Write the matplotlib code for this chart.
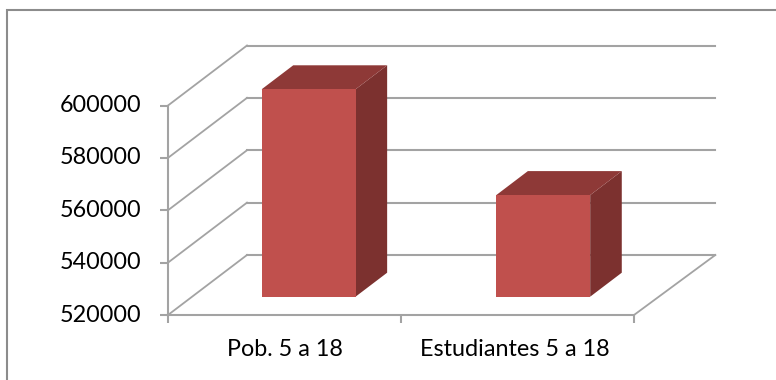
import matplotlib
matplotlib.use("Agg")
import matplotlib.pyplot as plt
from matplotlib.patches import Polygon, Rectangle
from matplotlib.transforms import Affine2D, IdentityTransform

categories = ["Pob. 5 a 18", "Estudiantes 5 a 18"]
values = [599200, 558800]
y_ticks = [520000, 540000, 560000, 580000, 600000]
bar_x = [0.5, 1.507]
label_x = [0.5, 1.49]

W, H = 776, 380
GRID = "#a3a3a3"
FRONT = "#c0504d"
TOP = "#8e3937"
SIDE = "#7c312f"

# oblique offset of the back wall, in pixels
DX, DY = 79, 60
BACK_RIGHT = 2.01
BAR_W = 0.403
DEPTH_0, DEPTH_1 = 0.305, 0.705
FONT_SIZE = 16.8

plt.rcParams["font.family"] = ["Lato", "DejaVu Sans"]

fig = plt.figure(figsize=(W / 100, H / 100), dpi=100)
# outer frame runs off the right and bottom of the figure
fig.patches.append(Rectangle((6.5 / W, 1 - 400 / H), 800 / W, 390.5 / H, transform=fig.transFigure,
                             fc="white", ec="#8c8c8c", lw=1.5, zorder=-1))

ax = fig.add_axes([168 / W, 1 - 315 / H, 466 / W, 209.5 / H])
ax.patch.set_alpha(0)
ax.set_xlim(0, 2)
ax.set_ylim(y_ticks[0], y_ticks[-1])
for s in ["top", "right"]:
    ax.spines[s].set_visible(False)
for s in ["left", "bottom"]:
    ax.spines[s].set_color(GRID)
    ax.spines[s].set_linewidth(1.5)
ax.set_xticks([0, 1, 2])
ax.set_xticklabels([])
ax.set_yticks(y_ticks)
ax.tick_params(axis="both", color=GRID, width=1.5, length=6, pad=13, labelsize=FONT_SIZE, labelcolor="black")
for tick in ax.get_yticklabels():
    tick.set_verticalalignment("center")

pixels = IdentityTransform()


def depth(d):
    return ax.transData + Affine2D().translate(DX * d, DY * d)


def wall_line(x, y, x_back):
    # line going from the front plane back to the rear wall
    px, py = ax.transData.transform((x, y))
    qx, qy = depth(1).transform((x_back, y))
    ax.add_line(plt.Line2D([px, qx], [py, qy], color=GRID, lw=1.3, transform=pixels,
                           clip_on=False, zorder=1))


# gridlines on the back wall, side wall and floor
for v in y_ticks:
    ax.plot([0, BACK_RIGHT], [v, v], color=GRID, lw=1.5, transform=depth(1), clip_on=False, zorder=1)
    wall_line(0, v, 0)
wall_line(2, y_ticks[0], BACK_RIGHT)

# each bar is three faces: side, top, then front
base = y_ticks[0]
front = depth(DEPTH_0)
ox = DX * (DEPTH_1 - DEPTH_0)
oy = DY * (DEPTH_1 - DEPTH_0)
for x, v in zip(bar_x, values):
    left, right = x - BAR_W / 2, x + BAR_W / 2
    xr, yb = front.transform((right, base))
    xl, yt = front.transform((left, v))
    ax.add_patch(Polygon([(xr, yb), (xr + ox, yb + oy), (xr + ox, yt + oy), (xr, yt)],
                         fc=SIDE, ec="none", transform=pixels, clip_on=False, zorder=3))
    ax.add_patch(Polygon([(xl, yt), (xl + ox, yt + oy), (xr + ox, yt + oy), (xr, yt)],
                         fc=TOP, ec="none", transform=pixels, clip_on=False, zorder=3))
    ax.bar(x, v - base, BAR_W, bottom=base, color=FRONT, transform=front, clip_on=False, zorder=4)

for x, c in zip(label_x, categories):
    ax.annotate(c, (x, base), xytext=(0, -41), textcoords="offset pixels",
                ha="center", va="baseline", fontsize=FONT_SIZE, annotation_clip=False)

fig.savefig("out.png", dpi=100)
